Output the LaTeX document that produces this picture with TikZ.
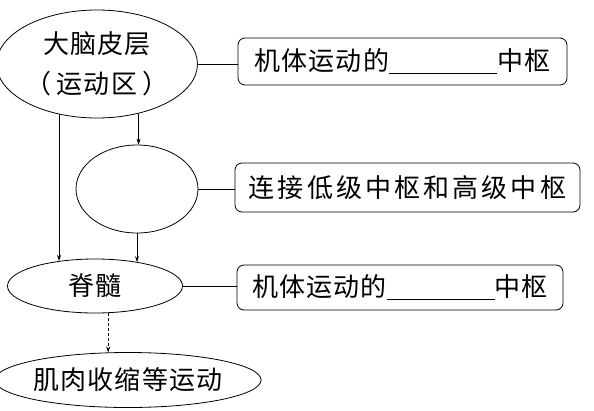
\documentclass[tikz,border=0pt]{standalone}
\usepackage{fontspec}
\newfontfamily\cjk[LetterSpace=4]{Noto Sans CJK SC}
\newfontfamily\cjkwide[LetterSpace=12]{Noto Sans CJK SC}
\usetikzlibrary{arrows.meta,shapes.geometric}
\newcommand{\blankline}{\rule[-3pt]{108pt}{0.8pt}}

\begin{document}
\begin{tikzpicture}[x=1pt,y=-1pt,
        ell/.style = {draw, ellipse, inner sep=0pt, line width=0.8pt},
        rbox/.style = {draw, rectangle, rounded corners=7pt, inner sep=0pt, line width=0.8pt},
        txt/.style = {font = {\cjk\fontsize{26pt}{40pt}\selectfont}, align=center},
        arr/.style = {line width=0.8pt, -{Stealth[length=6pt,width=4pt]}},
        link/.style = {line width=0.8pt}]
        \useasboundingbox (0,0) rectangle (594,410);
        % ellipses on the left
        \node[ell, txt, minimum width=180pt, minimum height=108pt] (dnpc) at (97, 64) {大脑皮层\\（\hspace{5pt}运动区\hspace{5pt}）};
        \node[ell, minimum width=122pt, minimum height=88pt] (mid) at (137, 189) {};
        \node[ell, txt, minimum width=175pt, minimum height=54pt] (jisui) at (95, 286) {脊髓};
        \node[ell, txt, minimum width=241pt, minimum height=55pt] (jirou) at (128, 380) {肌肉收缩等运动};
        % boxes on the right
        \node[rbox, txt, minimum width=329pt, minimum height=47pt] (boxa) at (402.5, 61.5) {机体运动的\blankline 中枢};
        \node[rbox, minimum width=345pt, minimum height=49pt, font = {\cjkwide\fontsize{26pt}{34pt}\selectfont}] (boxb) at (407.5, 187.5) {连接低级中枢和高级中枢};
        \node[rbox, txt, minimum width=326pt, minimum height=45pt] (boxc) at (400, 287.5) {机体运动的\blankline 中枢};
        % connectors
        \draw[link] (dnpc.east) -- (dnpc.east -| boxa.west);
        \draw[link] (mid.east) -- (mid.east -| boxb.west);
        \draw[link] (jisui.east) -- (jisui.east -| boxc.west);
        \draw[arr] (dnpc.233) -- (dnpc.233 |- jisui.145);
        \draw[arr] (dnpc.310) -- (dnpc.310 |- mid.north);
        \draw[arr] (mid.south) -- (mid.south |- jisui.29);
        \draw[arr, dash pattern=on 3pt off 2pt] (jisui.296) -- (jisui.296 |- jirou.126);
    \end{tikzpicture}
\end{document}
